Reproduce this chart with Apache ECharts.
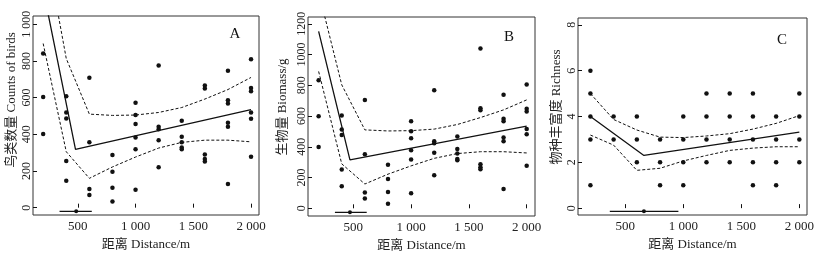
<!DOCTYPE html>
<html>
<head>
<meta charset="utf-8">
<script src="https://cdn.jsdelivr.net/npm/echarts@6/dist/echarts.min.js"></script>
<style>
  html, body { margin: 0; padding: 0; background: #fff; }
  #chart { width: 815px; height: 253px; }
</style>
</head>
<body>
<div id="chart"></div>
<script>
// panel A - bird counts
const countPts = [[200,840],[200,604],[200,401],[400,608],[400,519],[400,486],[400,254],[400,147],
  [600,708],[600,356],[600,102],[600,69],[800,287],[800,196],[800,109],[800,33],
  [1000,572],[1000,505],[1000,456],[1000,383],[1000,319],[1000,98],
  [1200,775],[1200,441],[1200,427],[1200,367],[1200,220],
  [1400,474],[1400,387],[1400,356],[1400,328],[1400,318],
  [1600,666],[1600,650],[1600,290],[1600,265],[1600,252],
  [1800,746],[1800,586],[1800,568],[1800,463],[1800,441],[1800,129],
  [2000,809],[2000,653],[2000,635],[2000,519],[2000,485],[2000,278]];
const countFit = [[200,1190],[480,318],[2000,535]];
const countUpper = [[200,1500],[400,813],[600,510],[800,503],[1000,505],[1200,519],[1400,546],[1600,592],[1800,644],[2000,710]];
const countLower = [[200,895],[400,305],[600,160],[800,222],[1000,276],[1200,325],[1400,356],[1600,368],[1800,368],[2000,359]];
const countBreak = [[342,-20],[621,-20]];
const countBreakPt = [[486,-20]];

// panel B - biomass
const massPts = [[200,833],[200,599],[200,399],[400,603],[400,512],[400,477],[400,252],[400,143],
  [600,705],[600,352],[600,102],[600,63],[800,284],[800,191],[800,106],[800,30],
  [1000,566],[1000,501],[1000,456],[1000,378],[1000,317],[1000,98],
  [1200,768],[1200,436],[1200,423],[1200,362],[1200,215],
  [1400,467],[1400,386],[1400,356],[1400,321],[1400,312],
  [1600,1039],[1600,651],[1600,638],[1600,286],[1600,267],[1600,254],
  [1800,738],[1800,582],[1800,566],[1800,460],[1800,436],[1800,126],
  [2000,805],[2000,647],[2000,629],[2000,516],[2000,482],[2000,276]];
const massFit = [[200,1150],[471,315],[2000,535]];
const massUpper = [[200,1407],[400,803],[600,510],[800,503],[1000,505],[1200,515],[1400,545],[1600,590],[1800,640],[2000,705]];
const massLower = [[200,890],[400,289],[600,158],[800,222],[1000,276],[1200,325],[1400,356],[1600,368],[1800,368],[2000,360]];
const massBreak = [[341,-26],[616,-26]];
const massBreakPt = [[471,-26]];

// panel C - richness
const richPts = [[200,6],[200,5],[200,4],[200,3],[200,1],[400,4],[400,3],
  [600,4],[600,3],[600,2],[800,3],[800,2],[800,1],
  [1000,4],[1000,3],[1000,2],[1000,1],[1200,5],[1200,4],[1200,3],[1200,2],
  [1400,5],[1400,4],[1400,3],[1400,2],[1600,5],[1600,4],[1600,3],[1600,2],[1600,1],
  [1800,4],[1800,3],[1800,2],[1800,1],[2000,5],[2000,4],[2000,3],[2000,2]];
const richFit = [[200,4.0],[661,2.30],[2000,3.32]];
const richUpper = [[200,5.0],[400,3.87],[600,3.41],[800,3.10],[1000,3.08],[1200,3.15],[1400,3.25],[1600,3.45],[1800,3.7],[2000,4.04]];
const richLower = [[200,3.19],[400,2.75],[600,1.65],[800,1.74],[1000,2.06],[1200,2.3],[1400,2.52],[1600,2.62],[1800,2.68],[2000,2.68]];
const richBreak = [[367,-0.14],[958,-0.14]];
const richBreakPt = [[661,-0.14]];

const xTicks = [500, 1000, 1500, 2000];
const countTicks = [0, 200, 400, 600, 800, 1000];
const massTicks = [0, 200, 400, 600, 800, 1000, 1200];
const richTicks = [0, 2, 4, 6, 8];

const FONT = "'Liberation Serif', 'Noto Sans CJK SC', serif";
const INK = '#111';

const spaced = v => v >= 1000 ? String(v).replace(/(\d)(\d{3})$/, '$1 $2') : String(v);

const chart = echarts.init(document.getElementById('chart'), null, {renderer: 'canvas'});

const grids = [
  {left: 33, top: 16, width: 226, height: 199},
  {left: 308, top: 17, width: 227, height: 199},
  {left: 578, top: 18, width: 229, height: 197}
];
const xRanges = [[112, 2069], [108, 2072], [93, 2066]];
const yRanges = [[-40, 1045], [-50, 1244], [-0.3, 8.3]];
const yTickSets = [countTicks, massTicks, richTicks];
const yFormat = [spaced, v => String(v), v => String(v)];

function xAxisFor(i) {
  return {
    type: 'value', gridIndex: i, min: xRanges[i][0], max: xRanges[i][1],
    splitLine: {show: false}, axisLine: {show: false},
    axisTick: {inside: true, length: 4, customValues: xTicks, lineStyle: {color: INK}},
    axisLabel: {customValues: xTicks, formatter: spaced, color: '#222',
      fontFamily: FONT, fontSize: 13, margin: 5},
    name: '距离 Distance/m', nameLocation: 'middle', nameGap: 23,
    nameTextStyle: {fontFamily: FONT, fontSize: 13, color: '#222'}
  };
}
function yAxisFor(i) {
  return {
    type: 'value', gridIndex: i, min: yRanges[i][0], max: yRanges[i][1],
    splitLine: {show: false}, axisLine: {show: false},
    axisTick: {inside: true, length: 4, customValues: yTickSets[i], lineStyle: {color: INK}},
    axisLabel: {customValues: yTickSets[i], formatter: yFormat[i], rotate: 90,
      color: '#222', fontFamily: FONT, fontSize: 12, margin: 0}
  };
}

function panelSeries(i, pts, fit, upper, lower, brk, brkPt) {
  const base = {xAxisIndex: i, yAxisIndex: i, animation: false};
  return [
    Object.assign({type: 'scatter', data: pts, symbolSize: 4.5, itemStyle: {color: INK, opacity: 1}}, base),
    Object.assign({type: 'line', data: fit, showSymbol: false, clip: true,
      lineStyle: {color: INK, width: 1.3}}, base),
    Object.assign({type: 'line', data: upper, showSymbol: false, clip: true,
      lineStyle: {color: INK, width: 1, type: [3, 2]}}, base),
    Object.assign({type: 'line', data: lower, showSymbol: false, clip: true,
      lineStyle: {color: INK, width: 1, type: [3, 2]}}, base),
    Object.assign({type: 'line', data: brk, showSymbol: false,
      lineStyle: {color: INK, width: 1.2}}, base),
    Object.assign({type: 'scatter', data: brkPt, symbolSize: 4, itemStyle: {color: INK, opacity: 1}}, base)
  ];
}

function vText(x, y, text) {
  return {type: 'text', x: x, y: y, rotation: Math.PI / 2,
    style: {text: text, font: '13px ' + FONT, fill: '#222',
      textAlign: 'center', textVerticalAlign: 'middle', align: 'center', verticalAlign: 'middle'}};
}
function letter(x, y, text) {
  return {type: 'text', x: x, y: y,
    style: {text: text, font: '15px ' + FONT, fill: '#111',
      textAlign: 'center', textVerticalAlign: 'middle', align: 'center', verticalAlign: 'middle'}};
}

chart.setOption({
  backgroundColor: '#fff',
  grid: grids.map(g => Object.assign({show: true, borderColor: '#333', borderWidth: 1,
    backgroundColor: 'transparent', outerBoundsMode: 'none', containLabel: false}, g)),
  xAxis: [0, 1, 2].map(xAxisFor),
  yAxis: [0, 1, 2].map(yAxisFor),
  series: [].concat(
    panelSeries(0, countPts, countFit, countUpper, countLower, countBreak, countBreakPt),
    panelSeries(1, massPts, massFit, massUpper, massLower, massBreak, massBreakPt),
    panelSeries(2, richPts, richFit, richUpper, richLower, richBreak, richBreakPt)
  ),
  graphic: [
    vText(12, 100, '鸟类数量 Counts of birds'),
    vText(283, 107, '生物量 Biomass/g'),
    vText(557, 107, '物种丰富度 Richness'),
    letter(235, 34, 'A'),
    letter(509, 37, 'B'),
    letter(782, 40, 'C')
  ]
});
</script>
</body>
</html>
